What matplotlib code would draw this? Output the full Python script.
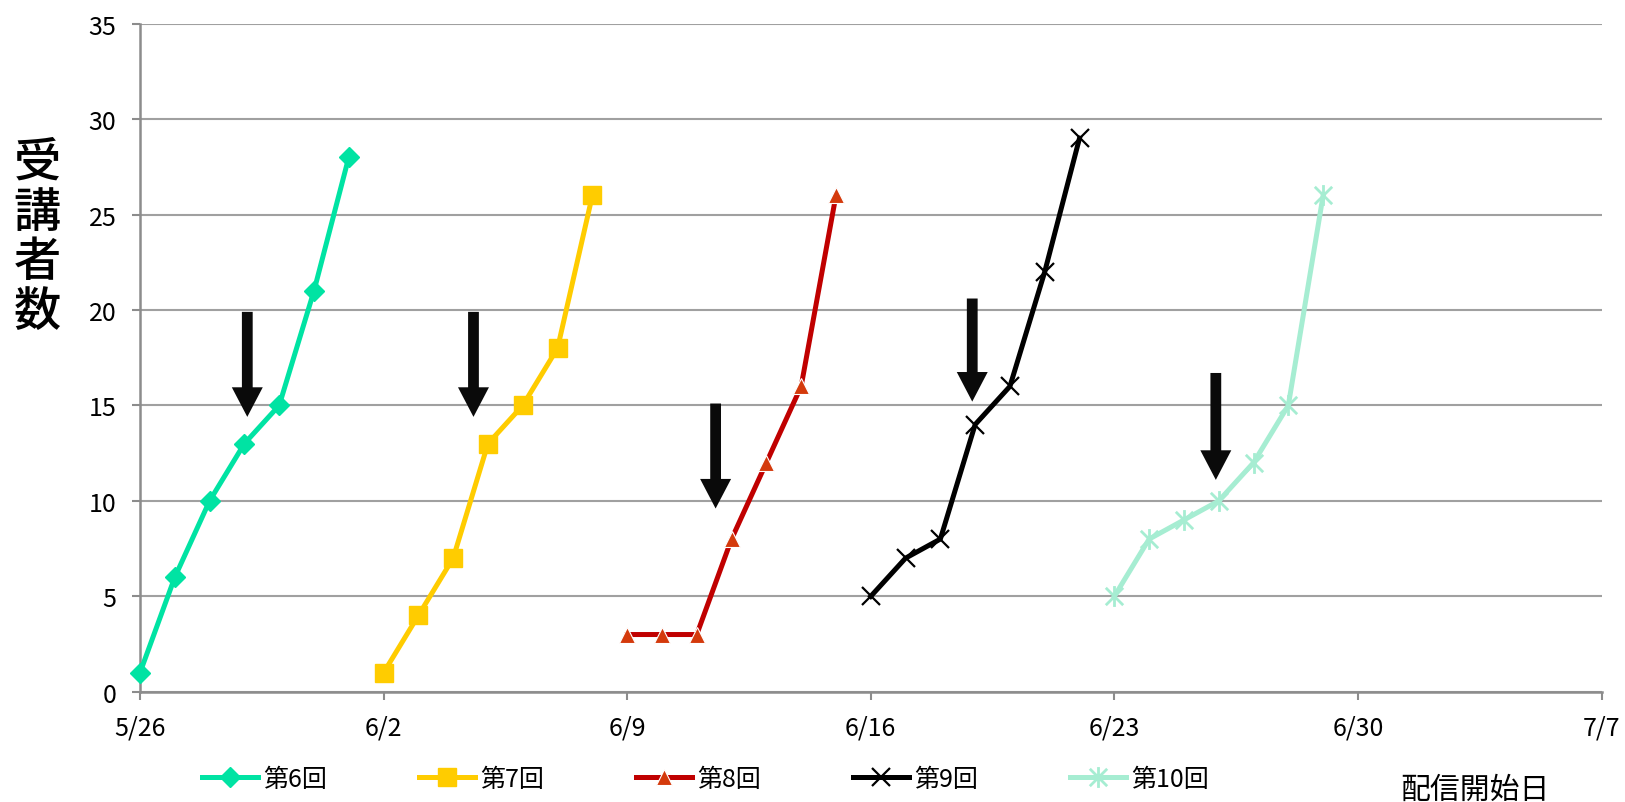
import matplotlib
matplotlib.use('Agg')
import matplotlib.pyplot as plt
import matplotlib.dates as mdates
from matplotlib.path import Path
from matplotlib.markers import MarkerStyle
import pandas as pd

plt.rcParams['font.family'] = ['Noto Sans CJK JP', 'DejaVu Sans']

YEAR = 2021
series_names = ['第6回', '第7回', '第8回', '第9回', '第10回']
dates_6 = ['5/26', '5/27', '5/28', '5/29', '5/30', '5/31', '6/1']
vals_6 = [1, 6, 10, 13, 15, 21, 28]
dates_7 = ['6/2', '6/3', '6/4', '6/5', '6/6', '6/7', '6/8']
vals_7 = [1, 4, 7, 13, 15, 18, 26]
dates_8 = ['6/9', '6/10', '6/11', '6/12', '6/13', '6/14', '6/15']
vals_8 = [3, 3, 3, 8, 12, 16, 26]
dates_9 = ['6/16', '6/17', '6/18', '6/19', '6/20', '6/21', '6/22']
vals_9 = [5, 7, 8, 14, 16, 22, 29]
dates_10 = ['6/23', '6/24', '6/25', '6/26', '6/27', '6/28', '6/29']
vals_10 = [5, 8, 9, 10, 12, 15, 26]
tick_dates = ['5/26', '6/2', '6/9', '6/16', '6/23', '6/30', '7/7']
y_ticks = [0, 5, 10, 15, 20, 25, 30, 35]
arrow_dates = ['5/29 02:00', '6/4 14:00', '6/11 13:00', '6/18 22:00', '6/25 22:00']
arrow_top = [19.9, 19.9, 15.1, 20.6, 16.7]
arrow_tip = [14.4, 14.4, 9.6, 15.2, 11.1]
y_label = '受講者数'
x_label = '配信開始日'


def to_num(ds, fmt='%Y/%m/%d'):
    return mdates.date2num(pd.to_datetime([f'{YEAR}/{d}' for d in ds], format=fmt))


fig = plt.figure(figsize=(16.25, 8.03), dpi=100)
ax = fig.add_axes([140 / 1625, 1 - 692.8 / 803, (1601.5 - 140) / 1625, (692.8 - 24.6) / 803])

star_path = Path([(-0.5, -0.5), (0.5, 0.5), (-0.5, 0.5), (0.5, -0.5), (0, -0.6), (0, 0.6)],
                 [Path.MOVETO, Path.LINETO, Path.MOVETO, Path.LINETO, Path.MOVETO, Path.LINETO])

styles = [
    dict(color='#00E3A3', marker='D', ms=10, mfc='#00E3A3', mec='#00E3A3'),
    dict(color='#FFCC00', marker='s', ms=13, mfc='#FFCC00', mec='#FFCC00'),
    dict(color='#C00000', marker='^', ms=11, mfc='#D43A0C', mec='white', mew=0.8),
    dict(color='#000000', marker='x', ms=13, mfc='black', mec='black', mew=1.6),
    dict(color='#A6EDD2', marker=MarkerStyle(star_path), ms=15, mfc='#A6EDD2', mec='#A6EDD2', mew=2),
]
all_dates = [dates_6, dates_7, dates_8, dates_9, dates_10]
all_vals = [vals_6, vals_7, vals_8, vals_9, vals_10]

handles = []
for name, ds, vs, st in zip(series_names, all_dates, all_vals, styles):
    h, = ax.plot(to_num(ds), vs, lw=3.6, label=name, clip_on=False, zorder=3, **st)
    handles.append(h)

# arrows
ax_x = to_num(arrow_dates, fmt='%Y/%m/%d %H:%M')
for x, t, b in zip(ax_x, arrow_top, arrow_tip):
    ax.arrow(x, t, 0, b - t, width=0.31, head_width=0.89, head_length=1.55,
             length_includes_head=True, color='#0A0A0A', lw=0, zorder=4)

tick_nums = to_num(tick_dates)
ax.set_xlim(tick_nums[0], tick_nums[-1])
ax.set_ylim(0, 35)
ax.set_xticks(tick_nums)
ax.set_xticklabels(tick_dates)
ax.set_yticks(y_ticks)
ax.set_yticklabels([str(v) for v in y_ticks])

ax.grid(axis='y', color='#A0A0A0', lw=1.5)
ax.set_axisbelow(True)
for s in ['top', 'right']:
    ax.spines[s].set_visible(False)
for s in ['left', 'bottom']:
    ax.spines[s].set_color('#8C8C8C')
    ax.spines[s].set_linewidth(1.8)
ax.tick_params(axis='both', direction='out', length=6, width=1.5, color='#8C8C8C',
               labelsize=18, labelcolor='black')
ax.tick_params(axis='x', pad=10)
ax.tick_params(axis='y', pad=11)

fig.text(37 / 1625, 1 - 238 / 803, '\n'.join(y_label), fontsize=34, ha='center', va='center',
         linespacing=1.02, fontweight='medium')
fig.text(1475 / 1625, 1 - 790 / 803, x_label, fontsize=21.5, ha='center', va='center')

# legend: one entry per box, evenly spaced like the reference
for i, h in enumerate(handles):
    fig.legend(handles=[h], loc='center left',
               bbox_to_anchor=((202 + i * 217) / 1625, 1 - 780 / 803),
               frameon=False, fontsize=18, handlelength=2.24, handletextpad=0.2,
               borderpad=0, borderaxespad=0)

fig.savefig('out.png', dpi=100)
